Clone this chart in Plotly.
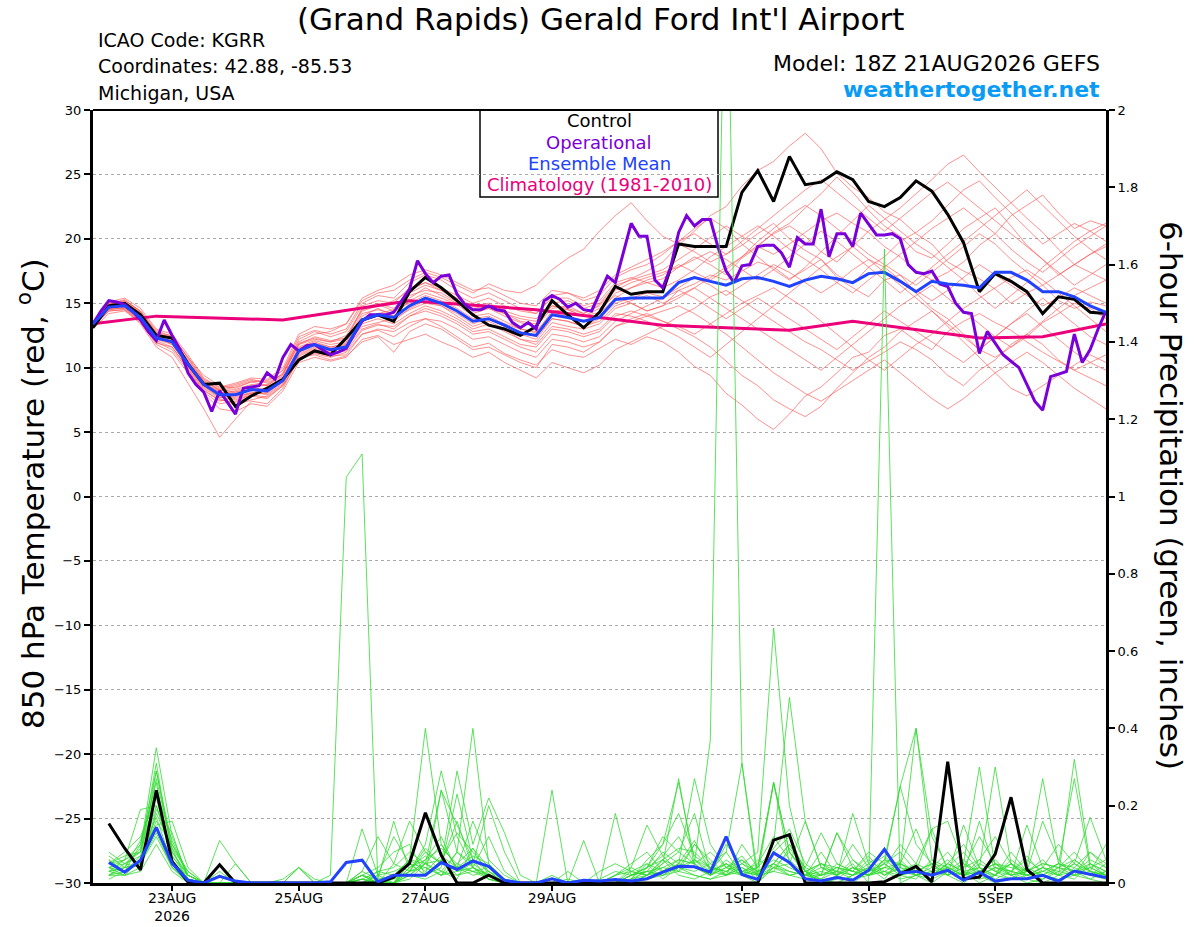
import pandas as pd
import plotly.graph_objects as go

# ---------------- time axes ----------------
times6 = pd.date_range("2026-08-21 18:00", periods=65, freq="6h")
times3 = pd.date_range("2026-08-21 18:00", periods=129, freq="3h")
tick_dates = ["2026-08-23", "2026-08-25", "2026-08-27", "2026-08-29", "2026-09-01", "2026-09-03", "2026-09-05"]
tick_text = ["23AUG<br>2026", "25AUG", "27AUG", "29AUG", "1SEP", "3SEP", "5SEP"]

# ---------------- 850 hPa temperature (C) ----------------
control_t = [13.1, 14.8, 15.0, 14.1, 12.5, 12.3, 10.3, 8.7, 8.8, 7.0, 7.8, 8.4, 9.1,
             10.6, 11.3, 11.0, 12.3, 13.7, 14.1, 13.6, 15.9, 17.0, 16.2, 15.2, 14.1, 13.3,
             13.0, 12.5, 13.2, 15.2, 14.1, 13.1, 14.3, 16.3, 15.7, 15.9, 15.9, 19.6, 19.4,
             19.4, 19.4, 23.6, 25.3, 22.9, 26.4, 24.2, 24.4, 25.2, 24.6, 22.9, 22.5, 23.2,
             24.5, 23.7, 21.9, 19.7, 15.9, 17.3, 16.7, 15.9, 14.2, 15.5, 15.3, 14.3, 14.2]

mean_t = [13.4, 14.7, 14.8, 13.9, 12.3, 12.0, 10.3, 8.7, 7.9, 7.9, 8.3, 8.2, 9.0,
          11.3, 11.8, 11.4, 11.6, 13.7, 14.1, 13.9, 14.8, 15.4, 15.0, 14.4, 13.6, 13.8,
          13.3, 12.7, 12.5, 14.1, 13.9, 13.6, 13.9, 15.3, 15.4, 15.4, 15.4, 16.6, 17.0,
          16.7, 16.4, 16.9, 17.0, 16.7, 16.3, 16.8, 17.1, 16.9, 16.6, 17.3, 17.4, 16.7,
          15.9, 16.7, 16.5, 16.4, 16.2, 17.4, 17.4, 16.8, 15.9, 15.9, 15.5, 14.8, 14.3]

oper_t = [13.4, 14.4, 15.2, 15.1, 14.9, 14.4, 13.7, 12.8, 12.1, 13.7, 12.5, 11.4, 9.6,
          8.7, 8.1, 6.6, 8.2, 7.3, 6.4, 8.4, 8.5, 8.6, 9.6, 9.1, 10.8, 11.8, 11.3,
          11.7, 11.8, 11.4, 11.0, 11.2, 11.5, 12.6, 13.6, 14.1, 14.1, 14.1, 14.3, 15.2,
          16.1, 18.3, 17.3, 16.6, 17.1, 17.2, 15.7, 14.9, 14.5, 14.5, 14.8, 14.5, 14.4,
          13.5, 13.1, 13.5, 13.0, 15.2, 15.6, 15.3, 14.7, 15.0, 14.5, 14.4, 15.7, 17.1,
          16.6, 19.0, 21.2, 20.2, 20.2, 16.8, 16.2, 17.8, 20.5, 21.8, 21.0, 21.5, 21.5,
          19.3, 17.5, 16.6, 17.9, 18.0, 19.4, 19.5, 19.5, 18.9, 17.8, 20.1, 19.6, 19.6,
          22.3, 18.6, 20.4, 20.4, 19.4, 22.0, 21.1, 20.3, 20.3, 20.4, 20.0, 18.0, 17.4,
          17.3, 17.5, 16.5, 16.3, 15.0, 14.3, 14.2, 11.1, 12.8, 11.9, 11.0, 10.5, 10.0,
          8.7, 7.4, 6.7, 9.3, 9.5, 9.7, 12.6, 10.4, 11.4, 13.0, 14.4]

clim_idx = [0, 4, 12, 20, 28, 36, 44, 48, 56, 60, 64]
clim_t = [13.4, 14.0, 13.7, 15.2, 14.5, 13.3, 12.9, 13.6, 12.3, 12.4, 13.4]

red_members = [
    [13.5,14.9,15.3,14.3,12.8,12.2,10.6,9.0,8.2,8.5,8.9,8.6,9.6, 11.8,12.2,12.0,12.5,14.5,14.9,14.4,15.6,
     16.0,15.8,15.1,14.2,14.6,14.0,13.5,13.2,14.6,14.8,14.2,14.9,16.2,16.9,17.5,18.2,
     19.5,20.6,21.8,22.5,24.1,25.3,26.0,27.2,28.2,27.0,25.1,24.0,23.2,22.1,21.5,20.4,19.6,18.2,17.5,16.9,16.1,15.0,15.8,16.4,15.2,14.6,15.1,14.8],
    [13.2,14.5,14.6,13.6,12.0,11.4,9.8,8.1,7.2,7.4,7.9,7.7,8.6, 10.6,11.2,10.9,11.0,12.6,13.0,12.8,13.5,
     13.8,13.2,12.4,11.6,11.9,11.1,10.6,10.2,11.4,11.0,10.8,11.5,12.2,11.8,12.4,12.0,
     11.2,10.1,9.4,8.0,7.1,6.0,5.2,6.4,7.8,8.5,9.6,10.8,11.2,12.5,13.0,12.1,11.4,12.8,13.6,14.2,13.5,12.9,12.0,11.2,10.5,9.8,10.4,11.0],
    [13.6,15.0,15.1,14.2,12.6,12.4,10.8,9.4,8.6,8.4,8.9,9.0,9.8, 12.0,12.6,12.8,13.4,15.2,15.8,16.0,16.8,
     17.4,17.0,16.4,15.8,16.5,16.0,15.8,16.4,17.6,18.5,19.2,20.6,21.8,22.8,21.4,20.2,
     19.6,19.0,18.2,18.8,19.5,20.4,21.2,20.0,19.1,18.4,17.2,16.5,17.8,18.6,19.8,20.5,21.4,22.6,23.8,24.5,23.2,22.0,20.8,19.6,20.4,21.2,20.6,19.8],
    [13.3,14.6,14.9,14.1,12.4,11.8,10.1,8.4,7.6,7.1,7.5,7.8,8.7, 11.0,11.5,11.2,11.8,13.2,13.5,13.8,14.5,
     15.0,14.8,14.0,13.2,13.6,13.0,12.2,12.0,13.5,13.2,13.0,13.4,14.6,15.0,14.4,14.8,
     16.0,16.5,17.2,16.8,17.5,18.2,17.8,16.9,17.6,18.4,17.0,16.2,15.5,16.8,17.2,15.8,14.6,13.8,12.6,11.4,10.8,11.6,12.4,13.5,14.2,15.0,14.6,13.8],
    [13.5,14.8,15.0,14.0,12.5,12.3,10.5,8.9,8.0,8.2,8.6,8.1,9.0, 11.5,12.0,11.6,11.9,14.0,14.6,14.0,15.2,
     15.8,15.4,14.9,14.0,14.2,13.6,13.0,12.7,14.4,14.5,14.0,14.3,15.8,16.2,16.6,16.9,
     17.8,18.6,18.0,17.2,18.5,19.4,20.5,21.2,22.4,23.5,24.8,23.6,22.2,21.0,20.2,19.0,18.5,19.6,20.8,21.6,22.4,21.0,19.5,18.4,17.2,18.0,18.8,19.4],
    [13.0,14.2,14.4,13.5,11.8,11.2,9.6,8.0,6.8,6.6,7.2,7.0,8.2, 10.4,10.8,10.5,10.8,12.2,12.5,11.8,12.2,
     12.6,12.0,11.5,10.8,11.2,10.4,9.8,9.2,10.4,10.0,9.6,10.2,11.4,12.0,12.6,13.2,
     14.0,14.6,15.5,16.0,15.2,14.4,13.6,12.8,12.0,11.4,10.6,9.8,10.5,11.2,12.0,11.4,10.6,9.4,8.6,9.8,10.6,11.8,12.6,11.8,10.6,9.8,9.2,8.6],
    [13.4,14.7,14.7,13.8,12.2,12.0,10.4,8.8,8.1,8.0,8.2,8.4,9.2, 11.6,12.1,11.8,12.0,14.2,14.5,14.2,15.4,
     16.2,15.6,15.0,14.6,14.8,14.2,13.8,13.6,15.0,15.2,14.6,15.0,16.4,16.8,17.2,17.6,
     18.4,19.2,20.1,21.0,20.2,19.4,18.8,19.6,20.5,21.4,22.0,21.2,20.5,19.4,18.6,17.5,16.8,17.4,18.2,19.5,20.4,21.8,22.6,23.4,22.0,20.8,21.4,21.0],
    [13.6,15.1,15.4,14.6,13.0,12.6,11.0,9.2,8.4,8.7,9.1,8.8,9.5, 12.2,12.8,12.4,12.8,14.8,15.2,15.0,16.2,
     16.6,16.0,15.4,14.8,15.0,14.4,14.0,13.8,14.8,14.5,14.0,14.6,15.6,15.0,14.4,14.8,
     15.4,16.2,17.0,17.8,18.6,19.5,20.4,21.0,20.2,19.0,18.2,19.4,20.6,21.5,22.4,23.5,24.6,25.8,26.5,25.2,24.0,22.8,21.6,20.5,19.2,18.0,17.4,16.8],
    [13.1,14.4,14.5,13.4,11.6,10.8,8.8,6.8,4.6,6.0,7.4,7.2,8.4, 10.8,11.0,10.6,10.9,12.0,12.4,11.2,12.8,
     13.4,13.0,12.2,11.4,11.6,11.0,10.4,10.0,11.8,11.6,11.2,12.0,13.2,13.8,14.2,13.6,
     13.0,12.4,11.6,10.5,9.4,8.6,7.5,6.8,6.2,7.0,8.4,9.6,10.8,11.6,12.8,13.6,14.4,13.2,12.0,10.8,9.6,8.4,7.8,8.6,9.4,10.2,11.0,10.4],
    [13.4,14.8,14.9,14.0,12.3,12.1,10.2,8.6,7.9,7.6,8.0,8.5,9.3, 11.4,11.9,11.6,11.8,13.6,14.0,13.6,14.6,
     15.2,14.8,14.2,13.4,13.8,13.2,12.6,12.2,13.8,13.6,13.2,13.8,15.0,15.4,15.8,15.5,
     16.2,17.0,16.4,15.6,16.4,17.2,18.0,17.4,16.6,15.8,16.6,17.6,18.4,17.8,16.8,16.0,15.2,16.0,17.0,18.0,17.2,16.4,15.6,14.8,15.4,16.2,15.6,15.0],
    [13.5,14.9,15.2,14.4,12.7,12.5,10.7,9.0,8.3,8.6,9.0,8.9,9.8, 12.4,12.9,12.6,13.0,15.0,15.6,15.4,16.6,
     17.2,16.8,16.0,15.4,15.8,15.2,14.6,14.2,15.6,15.8,15.2,15.6,17.0,17.6,18.0,18.8,
     19.8,20.8,21.6,20.8,19.6,18.6,17.6,16.8,17.8,19.0,20.2,21.4,22.6,21.6,20.6,19.6,18.8,17.8,16.8,15.6,14.6,15.6,16.6,17.8,18.8,19.8,20.6,21.2],
    [13.2,14.5,14.7,13.7,12.1,11.6,10.0,8.3,7.4,7.7,8.1,7.9,8.8, 10.9,11.4,11.1,11.3,12.9,13.3,13.2,14.0,
     14.6,14.2,13.6,12.8,13.0,12.4,11.8,11.6,13.0,12.8,12.4,12.8,14.0,14.4,14.0,13.6,
     13.2,12.6,13.4,14.2,15.0,15.6,16.2,15.4,14.6,13.6,12.6,11.6,10.6,9.8,10.8,11.8,12.6,13.6,14.6,15.4,16.2,17.0,17.6,16.8,15.8,14.8,13.8,12.8],
    [13.4,14.6,14.8,13.9,12.4,11.9,10.3,8.7,7.8,7.9,8.4,8.3,9.1, 11.2,11.7,11.4,11.6,13.8,14.2,14.5,15.0,
     15.6,15.2,14.6,13.8,14.0,13.4,13.0,12.8,14.2,14.0,13.6,14.2,15.4,16.2,16.8,17.2,
     18.0,17.4,16.8,17.6,18.6,19.8,20.8,21.8,22.6,21.8,20.8,19.8,18.8,18.0,17.2,16.4,17.4,18.4,19.4,20.4,19.6,18.4,17.4,16.4,17.2,18.0,18.8,19.6],
    [13.3,14.7,15.0,14.2,12.5,12.2,10.4,8.7,8.2,8.3,8.7,8.6,9.4, 11.8,12.4,12.1,12.3,14.4,14.8,15.2,16.0,
     16.6,16.2,15.6,15.0,15.4,14.8,14.4,14.2,15.4,15.4,14.8,15.2,16.6,17.0,16.6,16.2,
     16.8,17.6,18.6,19.4,20.2,21.0,20.2,19.2,18.4,17.6,16.6,15.8,16.8,17.8,18.8,19.8,20.8,21.6,22.4,21.4,20.4,19.2,18.2,17.4,18.4,19.4,20.2,21.0],
    [13.2,14.4,14.5,13.6,11.9,11.6,9.9,8.2,7.5,7.3,7.8,7.6,8.6, 10.6,11.1,10.8,11.2,12.6,12.9,12.4,13.2,
     13.8,13.6,13.0,12.2,12.4,11.8,11.2,10.8,12.2,12.0,11.6,12.0,13.2,13.6,14.0,14.4,
     14.8,14.2,13.4,12.6,11.6,10.6,9.6,8.8,8.0,7.4,8.2,9.0,9.8,10.6,9.6,8.6,7.6,6.8,7.6,8.6,9.6,10.4,11.2,10.4,9.4,8.4,7.6,6.8],
    [13.5,14.8,15.1,14.3,12.6,12.0,10.4,8.9,8.3,8.1,8.5,8.7,9.5, 11.9,12.3,12.0,12.2,14.6,15.0,14.6,15.8,
     16.4,16.0,15.2,14.4,14.6,14.2,13.6,13.4,14.8,14.6,14.2,14.8,16.0,16.6,17.0,17.4,
     17.8,18.4,19.0,18.4,17.6,16.8,17.6,18.6,19.6,20.6,19.8,18.8,17.8,16.8,15.8,16.8,17.8,18.8,19.8,20.8,21.8,22.8,23.8,22.6,21.4,20.2,19.2,18.4],
    [13.3,14.6,14.6,13.7,12.2,11.8,10.1,8.5,7.7,7.8,8.0,8.0,8.9, 11.1,11.6,11.3,11.5,13.4,13.8,13.4,14.2,
     14.8,14.4,13.8,13.0,13.4,12.8,12.2,11.8,13.2,13.0,12.6,13.0,14.2,14.0,13.6,13.0,
     12.4,11.6,10.8,11.8,12.8,13.8,14.8,15.8,16.8,17.8,18.6,19.4,18.4,17.4,16.4,15.4,14.4,13.4,12.4,11.4,12.4,13.4,14.4,15.4,14.4,13.4,12.4,11.8],
    [13.6,15.0,15.2,14.4,12.9,12.4,10.8,9.1,8.5,8.8,9.2,9.1,10.0, 12.6,13.2,13.0,13.4,15.4,16.0,16.4,17.2,
     17.6,17.2,16.6,16.0,16.2,15.6,15.0,14.8,16.0,15.8,15.4,16.0,17.2,17.8,18.4,19.0,
     19.8,20.4,19.6,18.8,19.8,20.8,21.8,22.8,23.8,24.6,23.6,22.6,21.6,20.6,21.6,22.6,23.6,24.4,23.4,22.4,21.4,20.4,19.4,18.4,17.4,16.4,17.2,18.0],
    [13.4,14.7,14.8,13.8,12.3,12.1,10.3,8.6,7.9,8.1,8.3,8.2,9.1, 11.3,11.8,11.5,11.7,13.6,14.2,14.0,14.8,
     15.4,15.0,14.4,13.6,13.8,13.2,12.8,12.4,13.8,13.6,13.2,13.6,14.8,15.2,15.6,15.0,
     15.6,16.2,15.4,14.6,13.8,13.0,12.2,11.4,10.6,9.8,10.8,11.8,12.8,13.8,14.8,15.6,16.4,15.4,14.4,13.4,12.4,11.6,12.6,13.6,14.6,15.6,16.2,16.8],
    [13.3,14.6,14.8,14.0,12.4,12.0,10.2,8.6,7.7,7.5,7.9,8.1,9.0, 11.4,11.8,11.4,11.6,13.0,13.4,13.0,14.0,
     14.4,14.0,13.4,12.6,12.8,12.2,11.6,11.2,12.6,12.4,12.0,12.4,13.6,14.2,14.8,15.4,
     16.0,15.4,14.6,13.8,14.6,15.4,14.6,13.8,13.0,12.2,11.4,12.4,13.4,14.4,13.6,12.8,12.0,11.2,10.4,11.4,12.4,13.4,14.2,13.2,12.2,11.2,10.4,9.8],
]

# ---------------- 6-hour precipitation (in), steps 1..64 ----------------
control_p = [0.154, 0.09, 0.034, 0.24, 0.055, 0.003, 0, 0.047,
             0, 0, 0, 0, 0, 0, 0, 0, 0, 0,
             0.015, 0.051, 0.182, 0.072, 0, 0, 0.02,
             0, 0, 0, 0, 0, 0, 0, 0, 0, 0, 0, 0, 0, 0, 0, 0, 0,
             0.111, 0.125,
             0, 0, 0, 0, 0,
             0.003, 0.024, 0.043, 0.003, 0.314, 0.011, 0.015, 0.075, 0.222, 0.035,
             0, 0, 0, 0, 0]

mean_p = [0.053, 0.028, 0.059, 0.144, 0.051, 0.007, 0, 0.017, 0.005, 0, 0, 0, 0, 0, 0.003, 0.053,
          0.059, 0.003, 0.02, 0.02, 0.02, 0.053, 0.035, 0.057, 0.043, 0.007, 0, 0, 0.011, 0, 0.007, 0.005,
          0.009, 0.005, 0.011, 0.028, 0.043, 0.042, 0.028, 0.12, 0.022, 0.009, 0.078, 0.053, 0.011, 0.005, 0.014, 0.007,
          0.033, 0.087, 0.026, 0.03, 0.02, 0.033, 0.007, 0.028, 0.005, 0.011, 0.011, 0.02, 0.005, 0.031, 0.022, 0.014]

# members listed for steps 0..64 (step 0 is always 0 and is not drawn)
green_members = [
    [0,0.05,0.08,0.12,0.22,0.06,0.01,0,0.02,0,0,0,0, 0,0,0.02,1.05,1.11,0,0.01,0.03,0.05,0.02,0.08,0.04,0.12,
     0.03,0,0,0,0.01,0,0,0,0.02,0.04,0.06,0.02,0.01, 0.03,0.08,0.02,0,0.05,0.1,0.03,0,0,0.02,0.04,0.01,0.06,
     0.02,0,0.03,0.05,0.02,0,0.01,0.04,0.02,0,0.03,0.01,0],
    [0,0.02,0.04,0.09,0.35,0.12,0.02,0,0,0,0,0,0, 0,0,0,0,0.02,0.01,0,0.04,0.07,0.03,0.01,0.09,0.02,
     0,0,0,0.01,0,0,0,0.02,0.05,0.08,0.03,0.06,0.05, 0.37,2.6,0.31,0,0.04,0.08,0.03,0.01,0,0.02,0.06,0.03,0.02,
     0.01,0.05,0.02,0,0.03,0.06,0.02,0,0.01,0.04,0.02,0.01,0.03],
    [0,0.08,0.05,0.04,0.18,0.09,0,0,0.11,0.05,0,0,0, 0,0,0,0,0.02,0,0,0.01,0.05,0.1,0.04,0.02,0.03,
     0.01,0,0,0,0,0,0,0.02,0.03,0.05,0.01,0.04,0.1, 0.06,0.02,0.04,0.01,0.08,0.12,0.03,0,0.02,0.05,0,1.64,0,
     0.02,0.04,0.08,0.03,0,0.02,0.05,0.01,0,0.02,0.06,0.03,0.01],
    [0,0.04,0.02,0.06,0.29,0.1,0.03,0,0,0,0,0,0, 0,0,0,0,0,0.01,0.02,0.06,0.4,0.1,0.04,0.03,0.01,
     0,0,0,0,0,0,0.01,0.03,0.02,0.04,0.12,0.08,0.05, 0.02,0.1,0.05,0.08,0.66,0.2,0.03,0,0.01,0.04,0.02,0.05,0.08,
     0.03,0.02,0.05,0.1,0.04,0.01,0.03,0.07,0.02,0,0.04,0.08,0.05],
    [0,0.06,0.03,0.1,0.26,0.05,0.01,0,0.02,0,0,0,0, 0,0,0,0,0.14,0.02,0.12,0.05,0.02,0.24,0.08,0.4,0.05,
     0.01,0,0,0.02,0,0,0,0,0.01,0.06,0.1,0.18,0.07, 0.04,0.03,0.06,0.02,0.1,0.48,0.16,0.04,0.02,0,0.03,0.05,0.25,
     0.1,0.05,0.04,0.02,0.06,0.12,0.05,0.02,0.01,0.03,0.05,0.02,0.01],
    [0,0.03,0.06,0.19,0.2,0.08,0.02,0,0,0.05,0,0,0, 0.04,0,0,0,0.03,0.12,0.05,0.16,0.08,0.05,0.29,0.1,0.22,
     0.13,0.02,0,0.24,0,0,0,0,0.03,0.02,0.05,0.27,0.04, 0.02,0.05,0.03,0.04,0.26,0.08,0.02,0.01,0.05,0.03,0.07,0.02,0.04,
     0.4,0.06,0.02,0.05,0.03,0.02,0.08,0.03,0.06,0.02,0.01,0.05,0.03],
    [0,0.02,0.05,0.07,0.15,0.16,0.04,0,0,0,0,0,0.01, 0.04,0.01,0,0,0,0.03,0.04,0.08,0.05,0.24,0.15,0.06,0.03,
     0,0,0,0,0,0.11,0,0.18,0.02,0.03,0.08,0.05,0.27, 0.1,0.04,0.02,0.03,0.05,0.1,0.04,0.13,0.05,0.03,0.02,0.04,0.05,
     0.03,0.14,0.16,0.05,0.3,0.04,0.02,0.03,0.05,0.04,0.08,0.03,0.02],
    [0,0.01,0.03,0.05,0.12,0.04,0,0,0,0,0,0,0, 0,0,0,0,0.03,0.01,0.16,0.03,0.1,0.29,0.12,0.04,0.01,
     0,0,0,0,0,0,0,0.02,0.04,0.15,0.07,0.03,0.1, 0.05,0.02,0.1,0.04,0.26,0.05,0.02,0.08,0.02,0.18,0.05,0.02,0.04,
     0.02,0.03,0.06,0.02,0.04,0.3,0.05,0.02,0.03,0.05,0.27,0.04,0.02],
    [0,0.05,0.07,0.08,0.31,0.07,0.01,0,0,0,0,0,0, 0,0,0,0,0.01,0,0,0.05,0.02,0.04,0.23,0.06,0.01,
     0,0,0,0,0,0,0,0,0.01,0.05,0.03,0.04,0.02, 0.01,0.03,0.05,0.02,0.03,0.09,0.04,0.02,0.13,0.04,0.02,0.06,0.25,
     0.4,0.12,0.04,0.02,0.05,0.03,0.02,0.15,0.04,0.02,0.03,0.05,0.02],
    [0,0.03,0.04,0.11,0.24,0.11,0.02,0,0,0,0,0,0, 0,0,0,0,0,0.02,0,0.02,0.06,0.12,0.03,0.05,0.2,
     0.08,0,0,0,0,0,0,0,0.02,0.03,0.02,0.05,0.11, 0.03,0.05,0.02,0.01,0.04,0.03,0.02,0.01,0.03,0.02,0.04,0.07,0.03,
     0.05,0.14,0.03,0.02,0.16,0.03,0.01,0.02,0.04,0.02,0.32,0.05,0.03],
    [0,0.04,0.06,0.08,0.27,0.09,0.03,0,0,0,0,0,0, 0,0,0,0,0,0,0,0.03,0.09,0.05,0.16,0.04,0.02,
     0,0,0,0,0,0,0,0,0,0.02,0.04,0.03,0.06, 0.02,0.04,0.07,0.02,0.26,0.08,0.03,0.02,0.04,0.03,0.08,0.05,0.02,
     0.03,0.02,0.04,0.08,0.03,0.05,0.02,0.04,0.27,0.05,0.03,0.06,0.04],
    [0,0.07,0.04,0.05,0.14,0.04,0,0,0,0,0,0,0, 0.04,0,0,0,0.02,0,0,0.06,0.03,0.07,0.04,0.16,0.06,
     0.02,0,0,0,0,0,0,0,0,0.04,0.1,0.26,0.06, 0.04,0.02,0.03,0.05,0.12,0.06,0.02,0.05,0.03,0.1,0.04,0.02,0.05,
     0.03,0.05,0.02,0.15,0.04,0.02,0.05,0.03,0.16,0.06,0.02,0.08,0.04],
    [0,0.03,0.02,0.04,0.19,0.13,0.01,0,0,0,0,0,0, 0,0,0,0,0.01,0,0,0.04,0.06,0.09,0.05,0.03,0.04,
     0,0,0,0,0,0,0,0,0.01,0.02,0.06,0.04,0.03, 0.05,0.08,0.31,0.02,0.04,0.05,0.02,0.03,0.02,0.06,0.03,0.04,0.1,
     0.05,0.03,0.02,0.04,0.12,0.05,0.03,0.02,0.04,0.1,0.05,0.03,0.02],
    [0,0.02,0.03,0.06,0.2,0.07,0.02,0,0.03,0,0,0,0, 0,0,0,0,0.02,0.04,0.08,0.1,0.02,0.06,0.13,0.08,0.03,
     0,0,0,0,0.03,0,0,0,0.02,0.04,0.07,0.12,0.05, 0.02,0.06,0.03,0.02,0.08,0.05,0.16,0.04,0.02,0.04,0.03,0.06,0.05,
     0.14,0.04,0.03,0.06,0.02,0.04,0.03,0.06,0.03,0.02,0.05,0.17,0.06],
    [0,0.04,0.05,0.08,0.23,0.06,0.01,0,0,0,0,0,0, 0,0,0,0,0,0.02,0.03,0.05,0.04,0.02,0.05,0.09,0.04,
     0.01,0,0,0,0,0,0.03,0.05,0.03,0.02,0.06,0.09,0.08, 0.04,0.03,0.02,0.04,0.09,0.14,0.05,0.02,0.13,0.06,0.02,0.04,0.03,
     0.02,0.06,0.04,0.02,0.03,0.05,0.04,0.03,0.05,0.04,0.06,0.03,0.1],
    [0,0.06,0.03,0.07,0.17,0.05,0.02,0,0,0,0,0,0, 0,0,0,0,0.01,0.03,0.02,0.06,0.05,0.03,0.08,0.05,0.02,
     0,0,0,0,0,0,0,0,0.02,0.03,0.04,0.06,0.05, 0.08,0.04,0.03,0.02,0.05,0.02,0.03,0.05,0.04,0.02,0.03,0.05,0.02,
     0.03,0.02,0.05,0.03,0.02,0.04,0.03,0.02,0.03,0.05,0.04,0.02,0.03],
    [0,0.02,0.02,0.03,0.1,0.03,0,0,0,0,0,0,0, 0,0,0,0,0,0,0,0.02,0.01,0.03,0.02,0.04,0.01,
     0,0,0,0,0,0,0,0,0,0.01,0.02,0.03,0.02, 0.01,0.02,0.04,0.02,0.03,0.02,0.01,0.02,0.03,0.01,0.02,0.03,0.01,
     0.02,0.01,0.03,0.02,0.01,0.02,0.01,0.03,0.02,0.01,0.02,0.03,0.02],
    [0,0.05,0.06,0.1,0.29,0.08,0.02,0,0,0,0,0,0, 0,0,0,0,0.02,0,0.05,0.03,0.08,0.05,0.04,0.07,0.05,
     0,0,0,0,0,0,0,0,0.04,0.02,0.05,0.08,0.18, 0.03,0.02,0.05,0.03,0.06,0.04,0.02,0.04,0.03,0.02,0.05,0.08,0.04,
     0.03,0.05,0.02,0.04,0.06,0.03,0.05,0.02,0.04,0.03,0.02,0.04,0.06],
    [0,0.03,0.04,0.05,0.13,0.04,0.01,0,0,0,0,0,0, 0,0,0,0,0,0,0,0.03,0.04,0.02,0.03,0.04,0.02,
     0,0,0,0,0,0,0,0,0,0.02,0.03,0.05,0.04, 0.02,0.04,0.06,0.03,0.05,0.03,0.02,0.02,0.04,0.03,0.02,0.03,0.05,
     0.02,0.03,0.04,0.02,0.03,0.05,0.02,0.03,0.02,0.04,0.03,0.02,0.05],
    [0,0.04,0.03,0.06,0.16,0.1,0.02,0,0,0,0,0,0, 0,0,0,0,0.01,0,0,0.02,0.05,0.06,0.02,0.03,0.02,
     0,0,0,0,0,0,0,0,0.01,0.03,0.02,0.04,0.06, 0.03,0.05,0.02,0.06,0.04,0.02,0.03,0.05,0.02,0.04,0.02,0.06,0.03,
     0.04,0.02,0.05,0.03,0.04,0.02,0.06,0.03,0.02,0.05,0.03,0.04,0.02],
]

# ---------------- colours ----------------
RED = "rgba(255,80,80,0.8)"
GREEN = "rgb(50,218,50)"
PURPLE = "#7A00DA"
BLUE = "#2142FF"
PINK = "#EB007A"

fig = go.Figure()

for m in red_members:
    fig.add_trace(go.Scatter(x=times6, y=m, mode="lines", line=dict(color=RED, width=0.8),
                             hoverinfo="skip", showlegend=False))
for g in green_members:
    fig.add_trace(go.Scatter(x=times6[1:], y=g[1:], mode="lines", yaxis="y2",
                             line=dict(color=GREEN, width=0.8), hoverinfo="skip", showlegend=False))

fig.add_trace(go.Scatter(x=times6[1:], y=control_p, mode="lines", yaxis="y2",
                         line=dict(color="black", width=3), showlegend=False))
fig.add_trace(go.Scatter(x=times6[1:], y=mean_p, mode="lines", yaxis="y2",
                         line=dict(color=BLUE, width=3), showlegend=False))

fig.add_trace(go.Scatter(x=[times6[k] for k in clim_idx], y=clim_t, mode="lines",
                         line=dict(color=PINK, width=3), showlegend=False))
fig.add_trace(go.Scatter(x=times6, y=control_t, mode="lines",
                         line=dict(color="black", width=3), showlegend=False))
fig.add_trace(go.Scatter(x=times3, y=oper_t, mode="lines",
                         line=dict(color=PURPLE, width=3), showlegend=False))
fig.add_trace(go.Scatter(x=times6, y=mean_t, mode="lines",
                         line=dict(color=BLUE, width=3), showlegend=False))

# plot area in page pixels
L, R, T, B = 93, 1106, 110, 883
W, H = R - L, B - T
FIG_W, FIG_H = 1200, 927


def px(x):
    return (x - L) / W


def py(y):
    return (B - y) / H


FONT = "DejaVu Sans, Liberation Sans, sans-serif"
ann = []
ann.append(dict(text="(Grand Rapids) Gerald Ford Int'l Airport", x=px(600), y=py(19),
                font=dict(size=31, color="black")))
for txt, yy in [("ICAO Code: KGRR", 40), ("Coordinates: 42.88, -85.53", 66), ("Michigan, USA", 93)]:
    ann.append(dict(text=txt, x=px(96), y=py(yy), xanchor="left", font=dict(size=19, color="black")))
ann.append(dict(text="Model: 18Z 21AUG2026 GEFS", x=px(1102), y=py(63), xanchor="right",
                font=dict(size=22, color="black")))
ann.append(dict(text="<b>weathertogether.net</b>", x=px(1102), y=py(89), xanchor="right",
                font=dict(size=22, color="#0A9BF5")))
for txt, yy, col in [("Control", 121, "black"), ("Operational", 142, PURPLE),
                     ("Ensemble Mean", 163, BLUE), ("Climatology (1981-2010)", 185, PINK)]:
    ann.append(dict(text=txt, x=px(599), y=py(yy), font=dict(size=18, color=col)))
ann.append(dict(text="850 hPa Temperature (red, <sup>o</sup>C)", x=px(31), y=py(494), textangle=-90,
                font=dict(size=31, color="black")))
ann.append(dict(text="6-hour Precipitation (green, inches)", x=px(1171), y=py(495), textangle=90,
                font=dict(size=31, color="black")))
for a in ann:
    a.update(xref="paper", yref="paper", showarrow=False)
    a.setdefault("xanchor", "center")
    a["yanchor"] = "middle"

shapes = [
    dict(type="rect", xref="paper", yref="paper", x0=px(480), x1=px(718), y0=py(197), y1=1,
         line=dict(color="black", width=1.5), fillcolor="white", layer="below"),
    dict(type="line", xref="paper", yref="paper", x0=0, x1=1, y0=1, y1=1,
         line=dict(color="black", width=2)),
]

fig.update_layout(
    width=FIG_W, height=FIG_H,
    margin=dict(l=L, r=FIG_W - R, t=T, b=FIG_H - B, autoexpand=False),
    paper_bgcolor="white", plot_bgcolor="rgba(0,0,0,0)",
    font=dict(family=FONT, color="black"),
    annotations=ann, shapes=shapes, showlegend=False,
    xaxis=dict(type="date", range=[times6[0], times6[-1]], tickvals=tick_dates, ticktext=tick_text,
               ticks="outside", ticklen=5, tickwidth=1.5, tickcolor="black", automargin=False,
               ticklabelstandoff=-5,
               showline=True, linewidth=3, linecolor="black", showgrid=False, zeroline=False,
               tickfont=dict(size=14, color="black")),
    yaxis=dict(range=[-30, 30], dtick=5, ticks="outside", ticklen=6, tickwidth=1.5, tickcolor="black",
               automargin=False,
               showline=True, linewidth=3, linecolor="black", showgrid=True, gridcolor="#aaaaaa",
               griddash="dot", gridwidth=1, zeroline=False, tickfont=dict(size=13, color="black")),
    yaxis2=dict(range=[0, 2], dtick=0.2, overlaying="y", side="right", ticks="outside", ticklen=6,
                automargin=False,
                tickwidth=1.5, tickcolor="black", showline=True, linewidth=3, linecolor="black",
                showgrid=False, zeroline=False, tickfont=dict(size=13, color="black")),
)

fig.write_html("out.html", config={"displayModeBar": False},
               post_script="document.body.style.margin='0';document.body.style.overflow='hidden';")
